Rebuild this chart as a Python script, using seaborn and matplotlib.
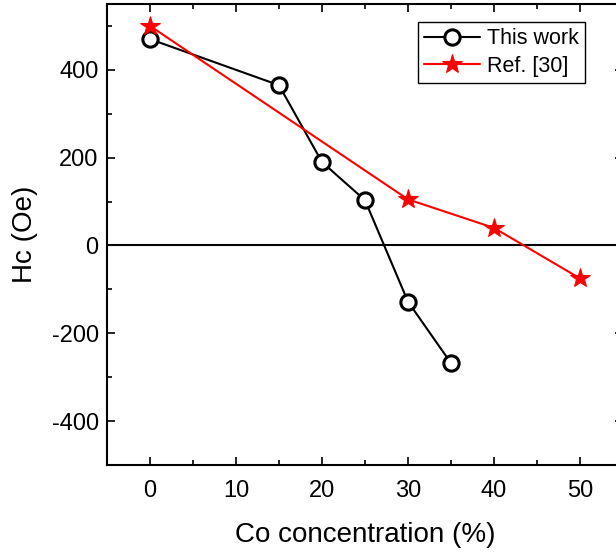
import matplotlib
matplotlib.use("Agg")
import matplotlib.pyplot as plt
import seaborn as sns
import pandas as pd
from matplotlib.ticker import MultipleLocator

# Data
this_x = [0, 15, 20, 25, 30, 35]
this_y = [470, 365, 190, 103, -128, -268]
ref_x = [0, 30, 40, 50]
ref_y = [500, 105, 40, -75]
x_ticks = [0, 10, 20, 30, 40, 50]
y_ticks = [-400, -200, 0, 200, 400]

sns.set_theme(style="ticks")
plt.rcParams['font.family'] = ['Liberation Sans', 'DejaVu Sans']
plt.rcParams['axes.unicode_minus'] = False
plt.rcParams['text.color'] = 'black'
plt.rcParams['axes.labelcolor'] = 'black'
plt.rcParams['legend.labelcolor'] = 'black'

fig = plt.figure(figsize=(6.16, 5.54), dpi=100)
ax = fig.add_axes([107/616, 1-465/554, 516/616, (465-4)/554])

ax.axhline(0, color='black', lw=1.5, zorder=1)

df1 = pd.DataFrame({"x": this_x, "y": this_y})
df2 = pd.DataFrame({"x": ref_x, "y": ref_y})
sns.lineplot(data=df1, x="x", y="y", ax=ax, color='black', lw=1.5, marker='o',
             markersize=11, markerfacecolor='white', markeredgecolor='black',
             markeredgewidth=2.2, label='This work', zorder=3)
sns.lineplot(data=df2, x="x", y="y", ax=ax, color='red', lw=1.5, marker='*',
             markersize=15, markerfacecolor='red', markeredgecolor='red',
             label='Ref. [30]', zorder=3)

ax.set_xlim(-5, 55)
ax.set_ylim(-500, 550)
ax.set_xticks(x_ticks)
ax.set_yticks(y_ticks)
ax.xaxis.set_minor_locator(MultipleLocator(5))
ax.yaxis.set_minor_locator(MultipleLocator(100))
ax.tick_params(which='both', direction='in', top=True, right=True, labelsize=17, width=1.2, colors='black')
ax.tick_params(which='major', length=6)
ax.tick_params(which='minor', length=3.5)
ax.tick_params(axis='x', pad=11)
ax.tick_params(axis='y', pad=6)
for s in ax.spines.values():
    s.set_linewidth(1.5)
    s.set_color('black')

ax.set_xlabel("Co concentration (%)", fontsize=20, labelpad=14, color='black')
ax.set_ylabel("Hc (Oe)", fontsize=20, labelpad=10, color='black')

leg = ax.legend(loc='upper left', bbox_to_anchor=((418-107)/516, 1-(22-4)/461), fontsize=15.5,
                frameon=True, fancybox=False, edgecolor='black', framealpha=1,
                handlelength=2.6, handletextpad=0.3, borderpad=0.3, labelspacing=0.3,
                borderaxespad=0)
leg.get_frame().set_linewidth(1.0)
for t in leg.get_texts():
    t.set_color('black')

fig.savefig("out.png", dpi=100)
